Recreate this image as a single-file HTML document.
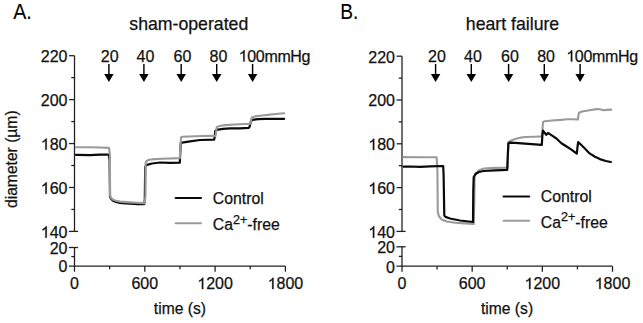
<!DOCTYPE html>
<html><head><meta charset="utf-8"><style>
html,body{margin:0;padding:0;background:#fff;}
svg{display:block;}
.t{font-family:"Liberation Sans",sans-serif;font-size:16px;fill:#111;stroke:#111;stroke-width:0.25px;}
.ti{font-family:"Liberation Sans",sans-serif;font-size:17.7px;fill:#111;stroke:#111;stroke-width:0.25px;}
.lg{font-family:"Liberation Sans",sans-serif;font-size:15.8px;fill:#111;stroke:#111;stroke-width:0.25px;}
.ax{font-family:"Liberation Sans",sans-serif;font-size:16.3px;fill:#111;stroke:#111;stroke-width:0.25px;}
.one{fill:transparent;stroke:none;}
.pn{font-family:"Liberation Sans",sans-serif;font-size:21.8px;fill:#000;stroke:#000;stroke-width:0.1px;}
</style></head><body>
<svg width="643" height="323" viewBox="0 0 643 323">
<rect width="643" height="323" fill="#fff"/>
<text x="13.2" y="18.8" class="pn" textLength="18.6" lengthAdjust="spacingAndGlyphs">A.</text>
<text x="340.2" y="18.6" class="pn" textLength="18.1" lengthAdjust="spacingAndGlyphs">B.</text>
<text x="129.3" y="29.8" class="ti">sham-operated</text>
<text x="465.8" y="30.2" class="ti">heart failure</text>
<text transform="translate(17.4,159.2) rotate(-90)" text-anchor="middle" class="ax" textLength="97.6" lengthAdjust="spacingAndGlyphs">diameter (µm)</text>
<text x="153.8" y="314" class="ax" textLength="52.2" lengthAdjust="spacingAndGlyphs">time (s)</text>
<text x="480.9" y="314" class="ax" textLength="52.2" lengthAdjust="spacingAndGlyphs">time (s)</text>
<line x1="74.5" y1="55.7" x2="74.5" y2="231.4" stroke="#222" stroke-width="1.3"/>
<line x1="69.1" y1="55.7" x2="74.5" y2="55.7" stroke="#222" stroke-width="1.3"/>
<line x1="69.1" y1="99.62" x2="74.5" y2="99.62" stroke="#222" stroke-width="1.3"/>
<line x1="69.1" y1="143.55" x2="74.5" y2="143.55" stroke="#222" stroke-width="1.3"/>
<line x1="69.1" y1="187.48" x2="74.5" y2="187.48" stroke="#222" stroke-width="1.3"/>
<line x1="71.3" y1="77.66" x2="74.5" y2="77.66" stroke="#222" stroke-width="1.3"/>
<line x1="71.3" y1="121.59" x2="74.5" y2="121.59" stroke="#222" stroke-width="1.3"/>
<line x1="71.3" y1="165.51" x2="74.5" y2="165.51" stroke="#222" stroke-width="1.3"/>
<line x1="71.3" y1="209.44" x2="74.5" y2="209.44" stroke="#222" stroke-width="1.3"/>
<line x1="68.9" y1="231.4" x2="78.1" y2="231.4" stroke="#222" stroke-width="1.3"/>
<line x1="68.9" y1="247.5" x2="78.1" y2="247.5" stroke="#222" stroke-width="1.3"/>
<line x1="74.5" y1="247.5" x2="74.5" y2="271.7" stroke="#222" stroke-width="1.3"/>
<line x1="71.3" y1="256.6" x2="74.5" y2="256.6" stroke="#222" stroke-width="1.3"/>
<line x1="68.9" y1="266.1" x2="285.4" y2="266.1" stroke="#222" stroke-width="1.3"/>
<line x1="144.8" y1="266.1" x2="144.8" y2="271.7" stroke="#222" stroke-width="1.3"/>
<line x1="215.1" y1="266.1" x2="215.1" y2="271.7" stroke="#222" stroke-width="1.3"/>
<line x1="285.4" y1="266.1" x2="285.4" y2="271.7" stroke="#222" stroke-width="1.3"/>
<line x1="109.65" y1="266.1" x2="109.65" y2="269.3" stroke="#222" stroke-width="1.3"/>
<line x1="179.95" y1="266.1" x2="179.95" y2="269.3" stroke="#222" stroke-width="1.3"/>
<line x1="250.25" y1="266.1" x2="250.25" y2="269.3" stroke="#222" stroke-width="1.3"/>
<text x="67.5" y="62" text-anchor="end" class="t">220</text>
<text x="67.5" y="105.92" text-anchor="end" class="t">200</text>
<text x="67.5" y="149.85" text-anchor="end" class="t"><tspan class="one">1</tspan>80</text>
<text x="67.5" y="193.78" text-anchor="end" class="t"><tspan class="one">1</tspan>60</text>
<text x="67.5" y="237.7" text-anchor="end" class="t"><tspan class="one">1</tspan>40</text>
<text x="67.5" y="253.8" text-anchor="end" class="t">20</text>
<text x="67.5" y="272.4" text-anchor="end" class="t">0</text>
<text x="74.5" y="289.1" text-anchor="middle" class="t">0</text>
<text x="144.8" y="289.1" text-anchor="middle" class="t">600</text>
<text x="215.1" y="289.1" text-anchor="middle" class="t"><tspan class="one">1</tspan>200</text>
<text x="285.4" y="289.1" text-anchor="middle" class="t"><tspan class="one">1</tspan>800</text>
<line x1="402" y1="56.2" x2="402" y2="231.4" stroke="#222" stroke-width="1.3"/>
<line x1="396.6" y1="56.2" x2="402" y2="56.2" stroke="#222" stroke-width="1.3"/>
<line x1="396.6" y1="100" x2="402" y2="100" stroke="#222" stroke-width="1.3"/>
<line x1="396.6" y1="143.8" x2="402" y2="143.8" stroke="#222" stroke-width="1.3"/>
<line x1="396.6" y1="187.6" x2="402" y2="187.6" stroke="#222" stroke-width="1.3"/>
<line x1="398.8" y1="78.1" x2="402" y2="78.1" stroke="#222" stroke-width="1.3"/>
<line x1="398.8" y1="121.9" x2="402" y2="121.9" stroke="#222" stroke-width="1.3"/>
<line x1="398.8" y1="165.7" x2="402" y2="165.7" stroke="#222" stroke-width="1.3"/>
<line x1="398.8" y1="209.5" x2="402" y2="209.5" stroke="#222" stroke-width="1.3"/>
<line x1="396.4" y1="231.4" x2="405.6" y2="231.4" stroke="#222" stroke-width="1.3"/>
<line x1="396.4" y1="246.8" x2="405.6" y2="246.8" stroke="#222" stroke-width="1.3"/>
<line x1="402" y1="246.8" x2="402" y2="271.8" stroke="#222" stroke-width="1.3"/>
<line x1="398.8" y1="256.4" x2="402" y2="256.4" stroke="#222" stroke-width="1.3"/>
<line x1="396.4" y1="266.2" x2="612.5" y2="266.2" stroke="#222" stroke-width="1.3"/>
<line x1="472.17" y1="266.2" x2="472.17" y2="271.8" stroke="#222" stroke-width="1.3"/>
<line x1="542.33" y1="266.2" x2="542.33" y2="271.8" stroke="#222" stroke-width="1.3"/>
<line x1="612.5" y1="266.2" x2="612.5" y2="271.8" stroke="#222" stroke-width="1.3"/>
<line x1="437.08" y1="266.2" x2="437.08" y2="269.4" stroke="#222" stroke-width="1.3"/>
<line x1="507.25" y1="266.2" x2="507.25" y2="269.4" stroke="#222" stroke-width="1.3"/>
<line x1="577.42" y1="266.2" x2="577.42" y2="269.4" stroke="#222" stroke-width="1.3"/>
<text x="395" y="62.5" text-anchor="end" class="t">220</text>
<text x="395" y="106.3" text-anchor="end" class="t">200</text>
<text x="395" y="150.1" text-anchor="end" class="t"><tspan class="one">1</tspan>80</text>
<text x="395" y="193.9" text-anchor="end" class="t"><tspan class="one">1</tspan>60</text>
<text x="395" y="237.7" text-anchor="end" class="t"><tspan class="one">1</tspan>40</text>
<text x="395" y="253.1" text-anchor="end" class="t">20</text>
<text x="395" y="272.5" text-anchor="end" class="t">0</text>
<text x="402" y="289.1" text-anchor="middle" class="t">0</text>
<text x="472.17" y="289.1" text-anchor="middle" class="t">600</text>
<text x="542.33" y="289.1" text-anchor="middle" class="t"><tspan class="one">1</tspan>200</text>
<text x="612.5" y="289.1" text-anchor="middle" class="t"><tspan class="one">1</tspan>800</text>
<line x1="108.9" y1="64" x2="108.9" y2="75" stroke="#000" stroke-width="1.45"/>
<path d="M104.2 74 L113.6 74 L108.9 82 Z" fill="#000"/>
<line x1="143.9" y1="64" x2="143.9" y2="75" stroke="#000" stroke-width="1.45"/>
<path d="M139.2 74 L148.6 74 L143.9 82 Z" fill="#000"/>
<line x1="181.2" y1="64" x2="181.2" y2="75" stroke="#000" stroke-width="1.45"/>
<path d="M176.5 74 L185.9 74 L181.2 82 Z" fill="#000"/>
<line x1="216.7" y1="64" x2="216.7" y2="75" stroke="#000" stroke-width="1.45"/>
<path d="M212 74 L221.4 74 L216.7 82 Z" fill="#000"/>
<line x1="252.6" y1="64" x2="252.6" y2="75" stroke="#000" stroke-width="1.45"/>
<path d="M247.9 74 L257.3 74 L252.6 82 Z" fill="#000"/>
<text x="109.75" y="61.6" text-anchor="middle" class="t">20</text>
<text x="145.5" y="61.6" text-anchor="middle" class="t">40</text>
<text x="182.4" y="61.6" text-anchor="middle" class="t">60</text>
<text x="218.5" y="61.6" text-anchor="middle" class="t">80</text>
<text x="238.7" y="61.6" text-anchor="start" class="t" textLength="71.8" lengthAdjust="spacing"><tspan class="one">1</tspan>00mmHg</text>
<line x1="435.6" y1="64" x2="435.6" y2="75" stroke="#000" stroke-width="1.45"/>
<path d="M430.9 74 L440.3 74 L435.6 82 Z" fill="#000"/>
<line x1="471.3" y1="64" x2="471.3" y2="75" stroke="#000" stroke-width="1.45"/>
<path d="M466.6 74 L476 74 L471.3 82 Z" fill="#000"/>
<line x1="508.6" y1="64" x2="508.6" y2="75" stroke="#000" stroke-width="1.45"/>
<path d="M503.9 74 L513.3 74 L508.6 82 Z" fill="#000"/>
<line x1="544.3" y1="64" x2="544.3" y2="75" stroke="#000" stroke-width="1.45"/>
<path d="M539.6 74 L549 74 L544.3 82 Z" fill="#000"/>
<line x1="580.1" y1="64" x2="580.1" y2="75" stroke="#000" stroke-width="1.45"/>
<path d="M575.4 74 L584.8 74 L580.1 82 Z" fill="#000"/>
<text x="436.9" y="61.6" text-anchor="middle" class="t">20</text>
<text x="472.9" y="61.6" text-anchor="middle" class="t">40</text>
<text x="509.9" y="61.6" text-anchor="middle" class="t">60</text>
<text x="546.1" y="61.6" text-anchor="middle" class="t">80</text>
<text x="566.3" y="61.6" text-anchor="start" class="t" textLength="71.8" lengthAdjust="spacing"><tspan class="one">1</tspan>00mmHg</text>
<path d="M76 154.9 L90 155.1 L100 154.7 L108.8 154.6 L109.6 160 L110 196.7 L111 198.8 L113 200.8 L116 202 L119 202.8 L126.4 203.4 L137.6 204.2 L144.2 204.2 L144.8 200 L145.2 167 L146 165.6 L148 164.6 L152 163.5 L160 162.5 L170 162.9 L179.8 162.6 L180.4 150 L180.8 143 L182 142.7 L190 141.4 L200 140 L214.2 139.6 L214.8 136 L215.2 131 L216.5 129.9 L223 128.9 L230 128.4 L240 128.4 L248.6 127.9 L249.6 126.8 L250.9 121.5 L252.2 120 L254 119.7 L258 119.1 L265 118.8 L275 118.9 L284.2 118.8" fill="none" stroke="#0a0a0a" stroke-width="2.2" stroke-linejoin="round" stroke-linecap="round"/>
<path d="M76 147.2 L90 147.3 L100 147.5 L109 147.9 L109.9 155 L110.1 195.5 L111 197.8 L113 199.6 L116 200.8 L120 201.6 L130 202.4 L144.8 203.3 L145.5 195 L145.6 163 L146.5 161 L149 159.8 L155 159.1 L162 158.7 L179.8 158.1 L180.6 145 L181 137.5 L182.5 136.8 L195 136.3 L210 135.8 L215.6 136 L216.3 130 L216.8 127.2 L218.5 126.2 L221 125.7 L225 125.1 L235 124.5 L245 124 L249.8 124 L250.8 122 L251.4 118.5 L252.6 117 L255 116.4 L262 115.5 L270 114.6 L278 113.8 L284.2 113.2" fill="none" stroke="#9a9a9a" stroke-width="2.1" stroke-linejoin="round" stroke-linecap="round"/>
<path d="M403.4 157.1 L420 157.2 L436.6 157.3 L437.4 170 L437.8 212 L439 216.5 L442 219.8 L447 221.5 L455 222.8 L465 223.4 L473.8 223.9 L474.3 200 L474.6 177 L476 173 L479 170.3 L484 168.5 L495 167.9 L507.6 167.6 L508 155 L508.4 142 L510 141.2 L513 139.8 L517 138.5 L521 137.6 L525 137 L535 136.7 L542 136.4 L542.6 128 L543 122.2 L544.7 121.2 L552 120.5 L560.9 119.9 L567.1 119.2 L572 119.3 L577.8 119.5 L578.5 115 L579 112.7 L582 111.5 L589.5 110.2 L595 109.4 L598.2 109 L601 109.5 L603.2 110.2 L607 109.9 L611.2 109.6" fill="none" stroke="#9a9a9a" stroke-width="2.1" stroke-linejoin="round" stroke-linecap="round"/>
<path d="M403.4 166.6 L410 166.5 L420 166.8 L430 166.3 L443.2 166 L443.6 175 L444.3 215.5 L445.5 216.9 L450 218.5 L460 220.5 L473 222 L473.3 190 L473.7 177 L475.5 174 L479 172 L483.6 171 L495 170.4 L507.2 169.9 L507.8 155 L508.4 143.4 L510 142.6 L515 142.8 L525 143.6 L535 144.3 L541.8 144.8 L542.4 135 L543 130.7 L546.2 134.8 L548 133 L551.4 135.1 L556.4 138.5 L561.4 143.3 L567 146.8 L571.4 149.6 L576.8 153.6 L577.5 147 L578.2 142 L584.1 147.8 L589.6 153.4 L595 156.8 L599.9 159.1 L605.8 161 L610.8 162" fill="none" stroke="#0a0a0a" stroke-width="2.2" stroke-linejoin="round" stroke-linecap="round"/>
<line x1="175.7" y1="198" x2="201" y2="198" stroke="#0a0a0a" stroke-width="2.2" stroke-linecap="round"/>
<line x1="175.7" y1="223.3" x2="201" y2="223.3" stroke="#9a9a9a" stroke-width="2.1" stroke-linecap="round"/>
<text x="212.8" y="204" class="lg">Control</text>
<text x="212.8" y="229.9" class="lg">Ca<tspan dy="-6.2" font-size="12.6">2+</tspan><tspan dy="6.2">-free</tspan></text>
<line x1="503.6" y1="196.5" x2="529.2" y2="196.5" stroke="#0a0a0a" stroke-width="2.2" stroke-linecap="round"/>
<line x1="503.6" y1="220.8" x2="529.2" y2="220.8" stroke="#9a9a9a" stroke-width="2.1" stroke-linecap="round"/>
<text x="540.8" y="202.1" class="lg">Control</text>
<text x="540.8" y="227.5" class="lg">Ca<tspan dy="-6.2" font-size="12.6">2+</tspan><tspan dy="6.2">-free</tspan></text>
<path d="M46.76 149.85L45.35 149.85L45.35 140.89Q44.84 141.37 44.04 141.85Q43.23 142.32 42.52 142.58L42.52 141.23Q43.8 140.62 44.64 139.89Q45.47 139.15 45.84 138.4L46.76 138.4Z" fill="#111" stroke="#111" stroke-width="0.25"/>
<path d="M46.76 193.78L45.35 193.78L45.35 184.82Q44.84 185.3 44.04 185.78Q43.23 186.25 42.52 186.51L42.52 185.15Q43.8 184.55 44.64 183.82Q45.47 183.08 45.84 182.33L46.76 182.33Z" fill="#111" stroke="#111" stroke-width="0.25"/>
<path d="M46.76 237.7L45.35 237.7L45.35 228.74Q44.84 229.22 44.04 229.7Q43.23 230.17 42.52 230.43L42.52 229.07Q43.8 228.47 44.64 227.74Q45.47 227 45.84 226.25L46.76 226.25Z" fill="#111" stroke="#111" stroke-width="0.25"/>
<path d="M203.26 289.1L201.85 289.1L201.85 280.14Q201.34 280.62 200.54 281.1Q199.73 281.57 199.02 281.83L199.02 280.48Q200.3 279.87 201.14 279.14Q201.97 278.4 202.33 277.65L203.26 277.65Z" fill="#111" stroke="#111" stroke-width="0.25"/>
<path d="M273.56 289.1L272.15 289.1L272.15 280.14Q271.64 280.62 270.84 281.1Q270.03 281.57 269.32 281.83L269.32 280.48Q270.6 279.87 271.44 279.14Q272.27 278.4 272.63 277.65L273.56 277.65Z" fill="#111" stroke="#111" stroke-width="0.25"/>
<path d="M374.26 150.1L372.85 150.1L372.85 141.14Q372.34 141.62 371.54 142.1Q370.73 142.57 370.02 142.83L370.02 141.48Q371.3 140.87 372.14 140.14Q372.97 139.4 373.34 138.65L374.26 138.65Z" fill="#111" stroke="#111" stroke-width="0.25"/>
<path d="M374.26 193.9L372.85 193.9L372.85 184.94Q372.34 185.42 371.54 185.9Q370.73 186.37 370.02 186.63L370.02 185.27Q371.3 184.67 372.14 183.94Q372.97 183.2 373.34 182.45L374.26 182.45Z" fill="#111" stroke="#111" stroke-width="0.25"/>
<path d="M374.26 237.7L372.85 237.7L372.85 228.74Q372.34 229.22 371.54 229.7Q370.73 230.17 370.02 230.43L370.02 229.07Q371.3 228.47 372.14 227.74Q372.97 227 373.34 226.25L374.26 226.25Z" fill="#111" stroke="#111" stroke-width="0.25"/>
<path d="M530.49 289.1L529.08 289.1L529.08 280.14Q528.57 280.62 527.77 281.1Q526.96 281.57 526.25 281.83L526.25 280.48Q527.53 279.87 528.37 279.14Q529.2 278.4 529.56 277.65L530.49 277.65Z" fill="#111" stroke="#111" stroke-width="0.25"/>
<path d="M600.66 289.1L599.25 289.1L599.25 280.14Q598.74 280.62 597.94 281.1Q597.13 281.57 596.42 281.83L596.42 280.48Q597.7 279.87 598.54 279.14Q599.37 278.4 599.73 277.65L600.66 277.65Z" fill="#111" stroke="#111" stroke-width="0.25"/>
<path d="M244.66 61.6L243.25 61.6L243.25 52.64Q242.75 53.12 241.94 53.6Q241.14 54.07 240.43 54.33L240.43 52.97Q241.71 52.37 242.54 51.64Q243.37 50.9 243.74 50.15L244.66 50.15Z" fill="#111" stroke="#111" stroke-width="0.25"/>
<path d="M572.26 61.6L570.85 61.6L570.85 52.64Q570.35 53.12 569.54 53.6Q568.74 54.07 568.03 54.33L568.03 52.97Q569.31 52.37 570.14 51.64Q570.97 50.9 571.34 50.15L572.26 50.15Z" fill="#111" stroke="#111" stroke-width="0.25"/>
</svg>
</body></html>
